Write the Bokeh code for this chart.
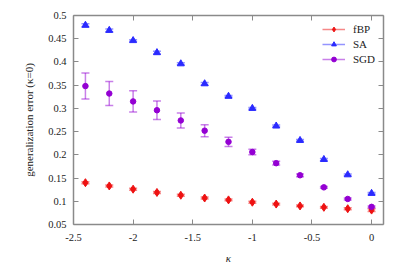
from bokeh.plotting import figure
from bokeh.models import (ColumnDataSource, Range1d, LinearAxis, Legend, LegendItem,
                          Whisker, TeeHead, FixedTicker)
from bokeh.embed import file_html
from bokeh.resources import INLINE

kappa = [-2.4, -2.2, -2.0, -1.8, -1.6, -1.4, -1.2, -1.0, -0.8, -0.6, -0.4, -0.2, 0.0]

fbp = [0.140, 0.133, 0.126, 0.119, 0.113, 0.107, 0.103, 0.098, 0.094, 0.090, 0.087, 0.084, 0.081]
fbp_err = [0.002, 0.002, 0.002, 0.002, 0.002, 0.002, 0.002, 0.002, 0.002, 0.002, 0.002, 0.002, 0.003]

sa = [0.479, 0.468, 0.446, 0.420, 0.396, 0.353, 0.326, 0.300, 0.262, 0.231, 0.190, 0.157, 0.117]
sa_err = [0.003, 0.003, 0.002, 0.003, 0.002, 0.003, 0.002, 0.002, 0.002, 0.002, 0.002, 0.002, 0.002]

sgd = [0.348, 0.332, 0.315, 0.296, 0.274, 0.252, 0.228, 0.206, 0.182, 0.156, 0.130, 0.105, 0.088]
sgd_err = [0.028, 0.026, 0.023, 0.020, 0.016, 0.013, 0.010, 0.006, 0.004, 0.003, 0.002, 0.002, 0.002]

x_ticks = [-2.5, -2.0, -1.5, -1.0, -0.5, 0.0]
y_ticks = [0.05, 0.1, 0.15, 0.2, 0.25, 0.3, 0.35, 0.4, 0.45, 0.5]

FONT = "Liberation Serif"
AXIS_COLOR = "#8a8a8a"

p = figure(width=400, height=266, output_backend="svg", toolbar_location=None,
           x_range=Range1d(-2.5, 0.1), y_range=Range1d(0.05, 0.5),
           min_border_left=73, min_border_right=17, min_border_top=15, min_border_bottom=39,
           x_axis_label="κ", y_axis_label="generalization error (κ=0)")
p.grid.visible = False
p.outline_line_color = None
p.background_fill_color = "white"
p.border_fill_color = "white"


def style_axis(ax, labels=True):
    ax.axis_line_color = AXIS_COLOR
    ax.axis_line_width = 1.5
    ax.major_tick_line_color = AXIS_COLOR
    ax.major_tick_line_width = 1
    ax.major_tick_in = 5
    ax.major_tick_out = 0
    ax.minor_tick_line_color = None
    ax.major_label_text_font = FONT
    ax.major_label_text_font_size = "10.5px"
    ax.major_label_text_color = "#222222"
    ax.axis_label_text_font = FONT
    ax.axis_label_text_font_size = "11px"
    ax.axis_label_text_font_style = "normal"
    ax.axis_label_text_color = "#222222"
    if not labels:
        ax.major_label_text_alpha = 0
        ax.major_label_text_font_size = "1px"


p.xaxis.ticker = FixedTicker(ticks=x_ticks)
p.yaxis.ticker = FixedTicker(ticks=y_ticks)
p.xaxis.major_label_overrides = {t: ("%g" % t) for t in x_ticks}
p.yaxis.major_label_overrides = {t: ("%g" % t) for t in y_ticks}
style_axis(p.xaxis[0])
style_axis(p.yaxis[0])
p.xaxis.major_label_standoff = 9
p.yaxis.major_label_standoff = 7
p.xaxis.axis_label_standoff = 8
p.yaxis.axis_label_standoff = 10
p.xaxis.axis_label_text_font_style = "italic"

top = LinearAxis(ticker=FixedTicker(ticks=x_ticks))
style_axis(top, labels=False)
p.add_layout(top, "above")
right = LinearAxis(ticker=FixedTicker(ticks=y_ticks))
style_axis(right, labels=False)
p.add_layout(right, "right")
top.major_label_standoff = 0
right.major_label_standoff = 0

series = [
    ("fBP", fbp, fbp_err, "#ee1111", "diamond", 8),
    ("SA", sa, sa_err, "#2a2aff", "triangle", 7),
    ("SGD", sgd, sgd_err, "#9400d3", "circle", 5.5),
]

items = []
for name, vals, errs, color, marker, size in series:
    lo = [v - e for v, e in zip(vals, errs)]
    hi = [v + e for v, e in zip(vals, errs)]
    src = ColumnDataSource(dict(x=kappa, y=vals, lo=lo, hi=hi))
    seg = p.segment(x0="x", y0="lo", x1="x", y1="hi", source=src,
                    line_color=color, line_alpha=0.5, line_width=1.5)
    w = Whisker(base="x", lower="lo", upper="hi", source=src, dimension="height",
                line_alpha=0,
                lower_head=TeeHead(size=8, line_color=color, line_alpha=0.5, line_width=1.5),
                upper_head=TeeHead(size=8, line_color=color, line_alpha=0.5, line_width=1.5))
    p.add_layout(w)
    sc = p.scatter(x="x", y="y", source=src, marker=marker, size=size,
                   fill_color=color, line_color=color)
    items.append(LegendItem(label=name, renderers=[seg, sc]))

legend = Legend(items=items, location=(249, 159), margin=0, padding=0,
                spacing=3, glyph_width=23, glyph_height=12, label_height=12,
                label_standoff=8, label_text_font=FONT, label_text_font_size="11px",
                label_text_color="#222222", background_fill_alpha=0,
                border_line_color=None)
p.add_layout(legend, "center")

open("out.html", "w").write(file_html(p, INLINE))
